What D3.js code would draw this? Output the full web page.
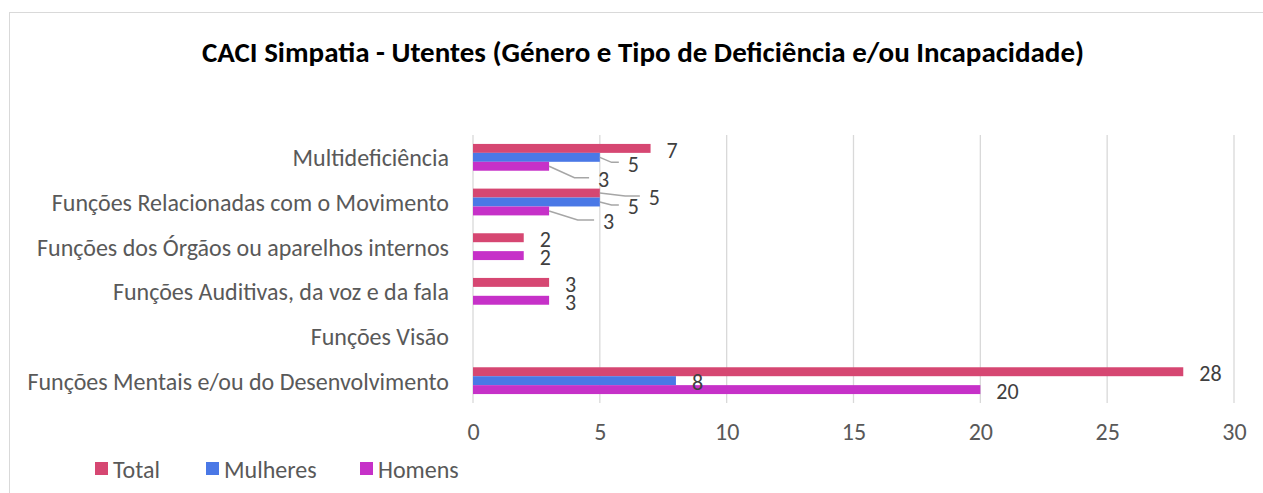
<!DOCTYPE html>
<html>
<head>
<meta charset="utf-8">
<script src="https://cdn.jsdelivr.net/npm/d3@7"></script>
<style>
  html, body { margin: 0; padding: 0; background: #fff; }
  svg { display: block; font-family: Carlito, Calibri, Lato, "Open Sans", sans-serif; }
</style>
</head>
<body>
<div id="chart"></div>
<script>
// Excel order: first category sits at the bottom
const categories = [
  'Funções Mentais e/ou do Desenvolvimento',
  'Funções Visão',
  'Funções Auditivas, da voz e da fala',
  'Funções dos Órgãos ou aparelhos internos',
  'Funções Relacionadas com o Movimento',
  'Multideficiência'
];
const seriesNames = ['Total', 'Mulheres', 'Homens'];
const totalValues = [28, null, 3, 2, 5, 7];
const mulheresValues = [8, null, null, null, 5, 5];
const homensValues = [20, null, 3, 2, 3, 3];
const xTicks = [0, 5, 10, 15, 20, 25, 30];

const colors = { Total: '#d64772', Mulheres: '#4a78e6', Homens: '#c631c8' };

// labels Excel pushed aside (with leader lines): [dx from bar end, dy]
const labelShift = {
  'Multideficiência|Mulheres': [28, 6.5],
  'Multideficiência|Homens': [49, 13],
  'Funções Relacionadas com o Movimento|Total': [49, 4.5],
  'Funções Relacionadas com o Movimento|Mulheres': [28, 4.5],
  'Funções Relacionadas com o Movimento|Homens': [54, 10.5]
};

const W = 1263, H = 493;
const plot = { left: 473, right: 1234, top: 135, bottom: 403 };

const valuesBySeries = { Total: totalValues, Mulheres: mulheresValues, Homens: homensValues };
const rows = [];
categories.forEach((c, i) => {
  seriesNames.forEach((s) => {
    const v = valuesBySeries[s][i];
    if (v != null) rows.push({ cat: c, series: s, value: v });
  });
});

const svg = d3.select('#chart').append('svg')
    .attr('width', W)
    .attr('height', H);

svg.append('rect')
    .attr('x', 9.5).attr('y', 12.5)
    .attr('width', W + 10).attr('height', H + 10)
    .attr('fill', '#fff')
    .attr('stroke', '#d9d9d9');

svg.append('text')
    .attr('x', 643).attr('y', 62)
    .attr('text-anchor', 'middle')
    .attr('font-size', 29)
    .attr('font-weight', 'bold')
    .attr('fill', '#000')
    .text('CACI Simpatia - Utentes (Género e Tipo de Deficiência e/ou Incapacidade)');

const x = d3.scaleLinear().domain([0, 30]).range([plot.left, plot.right]);
const y = d3.scaleBand().domain(categories).range([plot.bottom, plot.top])
    .paddingInner(0.4).paddingOuter(0.2);
const ySub = d3.scaleBand().domain(seriesNames).range([0, y.bandwidth()]);

// gridlines
svg.append('g')
    .selectAll('line')
    .data(xTicks)
    .join('line')
    .attr('x1', (d) => x(d)).attr('x2', (d) => x(d))
    .attr('y1', plot.top).attr('y2', plot.bottom)
    .attr('stroke', '#d9d9d9')
    .attr('stroke-width', 1.3);

// x axis labels
const xAxis = svg.append('g')
    .attr('transform', `translate(0,${plot.bottom})`)
    .call(d3.axisBottom(x).tickValues(xTicks).tickSize(0).tickPadding(20));
xAxis.attr('font-family', null).attr('font-size', null);
xAxis.select('.domain').remove();
xAxis.selectAll('text')
    .attr('font-size', 24)
    .attr('fill', '#595959');

// category labels
const yAxis = svg.append('g')
    .attr('transform', `translate(${plot.left},0)`)
    .call(d3.axisLeft(y).tickSize(0).tickPadding(24));
yAxis.attr('font-family', null).attr('font-size', null);
yAxis.select('.domain').remove();
yAxis.selectAll('text')
    .attr('font-size', 24)
    .attr('dy', '0.37em')
    .attr('fill', '#595959');

// bars
svg.append('g')
    .selectAll('rect')
    .data(rows)
    .join('rect')
    .attr('x', x(0))
    .attr('y', (d) => y(d.cat) + ySub(d.series))
    .attr('width', (d) => x(d.value) - x(0))
    .attr('height', ySub.bandwidth())
    .attr('fill', (d) => colors[d.series]);

// leader lines + data labels
const labels = svg.append('g');
rows.forEach((d) => {
  const x0 = x(d.value);
  const y0 = y(d.cat) + ySub(d.series) + ySub.bandwidth() / 2;
  const shift = labelShift[`${d.cat}|${d.series}`];
  const dx = shift ? shift[0] : 16;
  const dy = shift ? shift[1] : 1.5;
  if (shift) {
    const pts = [[x0, y0], [x0 + 0.65 * (dx - 10), y0 + dy - 1.5], [x0 + dx - 9, y0 + dy - 1.5]];
    labels.append('path')
        .attr('d', d3.line()(pts))
        .attr('fill', 'none')
        .attr('stroke', '#a6a6a6')
        .attr('stroke-width', 1.5);
  }
  labels.append('text')
      .attr('x', x0 + dx)
      .attr('y', y0 + dy)
      .attr('dy', '0.36em')
      .attr('font-size', 22)
      .attr('fill', '#404040')
      .text(d.value);
});

// legend
const legendX = [95, 206, 360];
const legend = svg.append('g');
seriesNames.forEach((s, i) => {
  legend.append('rect')
      .attr('x', legendX[i]).attr('y', 462)
      .attr('width', 13).attr('height', 13)
      .attr('fill', colors[s]);
  legend.append('text')
      .attr('x', legendX[i] + 18).attr('y', 469)
      .attr('dy', '0.36em')
      .attr('font-size', 24)
      .attr('fill', '#595959')
      .text(s);
});
</script>
</body>
</html>
